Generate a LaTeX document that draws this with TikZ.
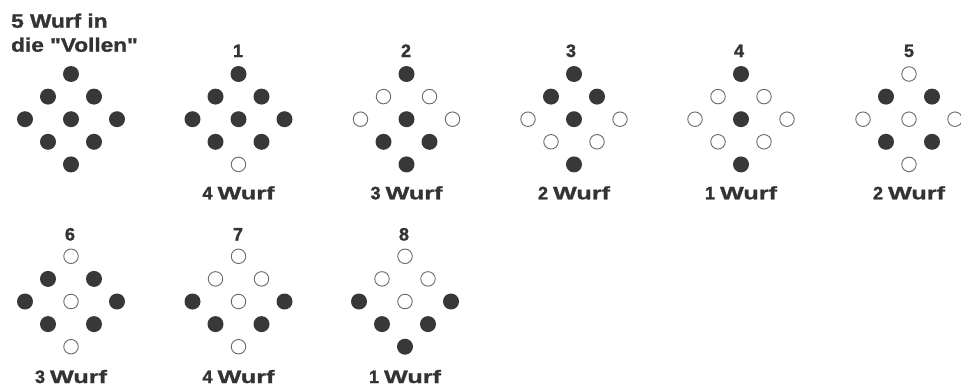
\documentclass[tikz,border=0pt]{standalone}
\usepackage{fontspec}
\setmainfont{Liberation Sans}
\newfontfamily\labfont{Liberation Sans}[FakeBold=1.3]
\newfontfamily\wurffont{Liberation Sans}[FakeBold=1.3,FakeStretch=1.40]
\newfontfamily\headfont{Liberation Sans}[FakeBold=1.3,FakeStretch=1.16]
\definecolor{pinfill}{HTML}{383838}
\definecolor{pinline}{HTML}{6A6A6A}
\definecolor{txt}{HTML}{333333}
\newcommand\kegelbild[4]{% #1 name, #2 x, #3 y of top pin, #4 states
  \foreach \s [count=\i] in {#4} {
    \pgfmathsetmacro\px{{0,-1,1,-2,0,2,-1,1,0}[\i-1]}
    \pgfmathsetmacro\py{{0,1,1,2,2,2,3,3,4}[\i-1]}
    \node[pin\s] (#1-\i) at ({#2+23*\px},{#3+22.6*\py}) {};
  }
}
\begin{document}
\begin{tikzpicture}[x=1pt,y=-1pt,
  pinf/.style={circle,fill=pinfill,minimum size=16,inner sep=0},
  pino/.style={circle,draw=pinline,line width=0.9,fill=white,minimum size=14.5,inner sep=0},
  lab/.style={anchor=base,inner sep=0,text=txt,font=\fontsize{18}{18}\labfont\bfseries},
  head/.style={anchor=base west,inner sep=0,text=txt,font=\fontsize{19.5}{24}\headfont\bfseries}]
\useasboundingbox[fill=white] (0,0) rectangle (961,388);
% title
\node[head] (t1) at (11,27.7) {5 Wurf in};
\node[head] (t2) at (11,51.7) {die "Vollen"};
% row 1
\kegelbild{d0}{71}{74}{f,f,f,f,f,f,f,f,f}
\kegelbild{d1}{238.5}{74}{f,f,f,f,f,f,f,f,o}
\kegelbild{d2}{406.5}{74}{f,o,o,o,f,o,f,f,f}
\kegelbild{d3}{574}{74}{f,f,f,o,f,o,o,o,f}
\kegelbild{d4}{741}{74}{f,o,o,o,f,o,o,o,f}
\kegelbild{d5}{909}{74}{o,f,f,o,o,o,f,f,o}
% row 2
\kegelbild{d6}{71}{256.3}{o,f,f,f,o,f,f,f,o}
\kegelbild{d7}{238.5}{256.3}{o,o,o,f,o,f,f,f,o}
\kegelbild{d8}{405}{256.3}{o,o,o,f,o,f,f,f,f}
% numbers
\foreach \n/\x/\y in {1/238/57,2/406/57,3/571/57,4/739/57,5/909/57,6/70/240.5,7/238/240.5,8/404/240.5}
  \node[lab] (n\n) at (\x,\y) {\n};
% throw counts
\foreach \n/\w/\x/\y in {1/4/238.5/199.3,2/3/406.5/199.3,3/2/574/199.3,4/1/741/199.3,5/2/909/199.3,6/3/71/383,7/4/238.5/383,8/1/405/383}
  \node[lab] (w\n) at (\x,\y) {\w\ {\wurffont\bfseries Wurf}};
\end{tikzpicture}
\end{document}
